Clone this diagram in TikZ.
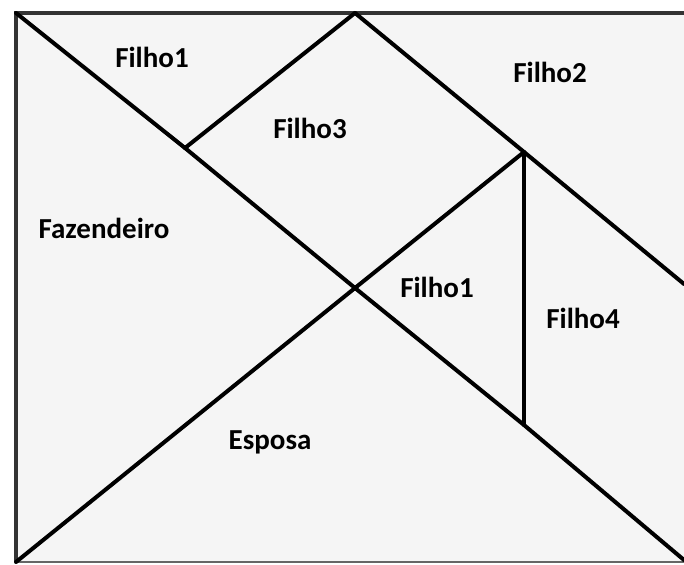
\documentclass[tikz,border=0pt]{standalone}
\usepackage{fontspec}
\setmainfont{Carlito}
\begin{document}
\begin{tikzpicture}[x=0.5pt,y=-0.5pt,
  seg/.style={line width=2pt,black,line cap=round,line join=round},
  lbl/.style={font=\fontsize{14.5}{16}\selectfont\bfseries,text=black,inner sep=0pt}]
\useasboundingbox (0,0) rectangle (684,565);
\fill[white] (0,0) rectangle (684,565);
\fill[black!4] (16,13) rectangle (684,562);
% frame
\draw[line width=2pt,black!80] (684,13) -- (16,13) -- (16,562);
\draw[line width=1.2pt,black!60] (16,562) -- (684,562);
% points
\coordinate (TL) at (16,13);
\coordinate (BL) at (16,562);
\coordinate (BR) at (684,560);
\coordinate (A) at (355,13);
\coordinate (P) at (185,148);
\coordinate (C) at (355,288);
\coordinate (R) at (524,152);
\coordinate (Q) at (524,425);
\coordinate (E) at (684,284);
% lines
\draw[seg] (TL) -- (P) -- (C) -- (Q) -- (BR);
\draw[seg] (BL) -- (C) -- (R);
\draw[seg] (A) -- (R) -- (E);
\draw[seg] (A) -- (P);
\draw[seg] (R) -- (Q);
% labels
\node[lbl] (f1a) at (152,57) {Filho1};
\node[lbl] (f2) at (550,72) {Filho2};
\node[lbl] (f3) at (310,128) {Filho3};
\node[lbl] (faz) at (104,228) {Fazendeiro};
\node[lbl] (f1b) at (437,287) {Filho1};
\node[lbl] (f4) at (583,318) {Filho4};
\node[lbl] (esp) at (270,442) {Esposa};
\end{tikzpicture}
\end{document}
